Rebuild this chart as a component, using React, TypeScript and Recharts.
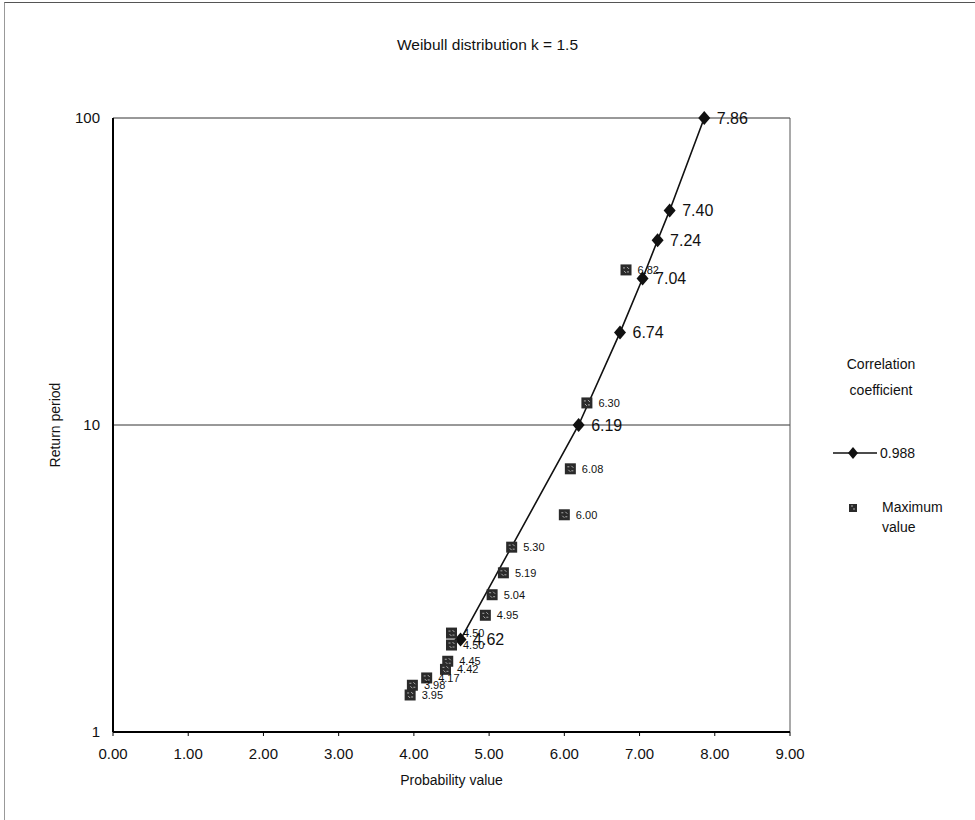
import React from 'react';
import { ScatterChart, Scatter, XAxis, YAxis, CartesianGrid, LabelList, Legend, ReferenceLine } from 'recharts';

// fitted Weibull line (k = 1.5)
const fitX = [4.62, 6.19, 6.74, 7.04, 7.24, 7.4, 7.86];
const fitT = [2, 10, 20, 30, 40, 50, 100];

// observed maximum values
const maxX = [6.82, 6.3, 6.08, 6.0, 5.3, 5.19, 5.04, 4.95, 4.5, 4.5, 4.45, 4.42, 4.17, 3.98, 3.95];
const maxT = [32, 11.8, 7.2, 5.1, 4.0, 3.3, 2.8, 2.4, 2.1, 1.92, 1.7, 1.6, 1.5, 1.42, 1.32];

const xTicks = [0, 1, 2, 3, 4, 5, 6, 7, 8, 9];
const yTicks = [1, 10, 100];

const fitData = fitX.map((x, i) => ({ x, t: fitT[i] }));
const maxData = maxX.map((x, i) => ({ x, t: maxT[i] }));

const FONT = '"Liberation Sans", Arial, sans-serif';

const Diamond = (props: any) => {
  const { cx, cy } = props;
  return <polygon points={`${cx},${cy - 7} ${cx + 6},${cy} ${cx},${cy + 7} ${cx - 6},${cy}`} fill="#111" />;
};

const Square = (props: any) => {
  const { cx, cy } = props;
  return (
    <g>
      <rect x={cx - 5.5} y={cy - 5.5} width={11} height={11} fill="#2a2a2a" />
      <path
        d={`M${cx - 3},${cy - 2} L${cx - 1},${cy - 2} M${cx + 1},${cy - 3} L${cx + 3},${cy - 1} M${cx - 2},${cy + 1} L${cx},${cy + 3} M${cx + 1},${cy + 2} L${cx + 3},${cy + 2}`}
        stroke="#bbb"
        strokeWidth={0.9}
      />
    </g>
  );
};

const renderLegend = () => (
  <div style={{ position: 'relative', width: 155, height: 210, fontFamily: FONT, fontSize: 14, color: '#111' }}>
    <div style={{ position: 'absolute', left: 6, top: 11, width: 110, textAlign: 'center', lineHeight: '26px' }}>
      Correlation
      <br />
      coefficient
    </div>
    <svg style={{ position: 'absolute', left: 13, top: 107 }} width={46} height={12}>
      <line x1={0} y1={6} x2={44} y2={6} stroke="#111" strokeWidth={1.5} />
      <polygon points="20,0 25,6 20,12 15,6" fill="#111" />
    </svg>
    <div style={{ position: 'absolute', left: 60, top: 104, lineHeight: '18px' }}>0.988</div>
    <svg style={{ position: 'absolute', left: 28, top: 163 }} width={10} height={10}>
      <rect x={1} y={1} width={8} height={8} fill="#2a2a2a" />
      <path d="M3,3 L5,3 M5,6 L7,6" stroke="#bbb" strokeWidth={0.9} />
    </svg>
    <div style={{ position: 'absolute', left: 62, top: 157, lineHeight: '20px' }}>
      Maximum
      <br />
      value
    </div>
  </div>
);

export default function App() {
  return (
    <div
      style={{
        position: 'absolute',
        left: 0,
        top: 0,
        width: 975,
        height: 820,
        background: '#fff',
        fontFamily: FONT,
      }}
    >
      <div style={{ position: 'absolute', left: 4, top: 2, width: 971, height: 818, borderTop: '1px solid #555', borderLeft: '1px solid #999' }} />
      <div style={{ position: 'absolute', left: 0, top: 36, width: 975, textAlign: 'center', fontSize: 15.5, color: '#111' }}>
        Weibull distribution k = 1.5
      </div>
      <ScatterChart width={975} height={820} margin={{ top: 118, right: 185, bottom: 28, left: 0 }}>
        <CartesianGrid horizontal vertical={false} stroke="#333" strokeWidth={1} />
        <XAxis
          type="number"
          dataKey="x"
          domain={[0, 9]}
          ticks={xTicks}
          tickFormatter={(v: number) => v.toFixed(2)}
          height={60}
          axisLine={{ stroke: '#000', strokeWidth: 2 }}
          tickLine={{ stroke: '#000' }}
          tickSize={4}
          tickMargin={12}
          tick={{ fill: '#111', fontSize: 15, fontFamily: FONT }}
          label={{ value: 'Probability value', position: 'insideBottom', offset: 7, fill: '#111', fontSize: 14, fontFamily: FONT }}
        />
        <YAxis
          type="number"
          dataKey="t"
          scale="log"
          domain={[1, 100]}
          ticks={yTicks}
          width={113}
          axisLine={{ stroke: '#000', strokeWidth: 2 }}
          tickLine={false}
          tickMargin={7}
          tick={{ fill: '#111', fontSize: 15, fontFamily: FONT }}
          label={{ value: 'Return period', angle: -90, position: 'insideLeft', offset: 55, fill: '#111', fontSize: 14, fontFamily: FONT, style: { textAnchor: 'middle' } }}
        />
        <ReferenceLine x={9} stroke="#555" strokeWidth={1} />
        <Legend layout="vertical" align="center" verticalAlign="middle" wrapperStyle={{ left: 820, top: 340, width: 155 }} content={renderLegend} />
        <Scatter
          name="0.988"
          data={fitData}
          line={{ stroke: '#111', strokeWidth: 1.6 }}
          shape={<Diamond />}
          isAnimationActive={false}
        >
          <LabelList dataKey="x" position="right" offset={8} formatter={(v: any) => Number(v).toFixed(2)} style={{ fill: '#111', fontSize: 16, fontFamily: FONT }} />
        </Scatter>
        <Scatter name="Maximum value" data={maxData} shape={<Square />} isAnimationActive={false}>
          <LabelList dataKey="x" position="right" offset={7} formatter={(v: any) => Number(v).toFixed(2)} style={{ fill: '#111', fontSize: 11, fontFamily: FONT }} />
        </Scatter>
      </ScatterChart>
    </div>
  );
}
